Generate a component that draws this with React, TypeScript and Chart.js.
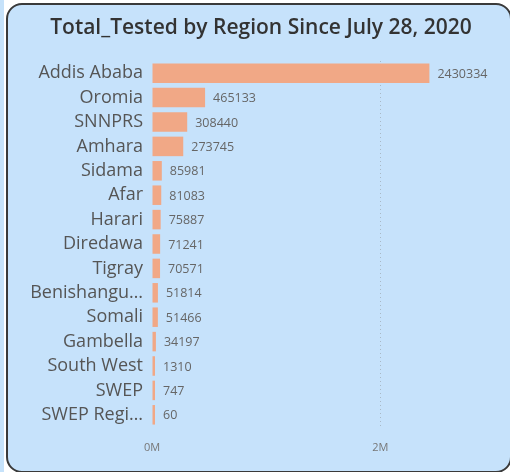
import React, { useEffect, useRef } from "react";
import { Chart, registerables } from "chart.js";

Chart.register(...registerables);

const regions = [
  "Addis Ababa", "Oromia", "SNNPRS", "Amhara", "Sidama", "Afar", "Harari",
  "Diredawa", "Tigray", "Benishangu…", "Somali", "Gambella", "South West",
  "SWEP", "SWEP Regi…",
];
const totalTested = [
  2430334, 465133, 308440, 273745, 85981, 81083, 75887, 71241, 70571,
  51814, 51466, 34197, 1310, 747, 60,
];
const xTickValues = [0, 2000000];
const xTickLabels = ["0M", "2M"];
const titleText = "Total_Tested by Region Since July 28, 2020";

const barLabelPlugin = {
  id: "barLabels",
  afterDatasetsDraw(chart: any) {
    const ctx = chart.ctx;
    const meta = chart.getDatasetMeta(0);
    ctx.save();
    ctx.font = "12.5px 'Open Sans'";
    ctx.fillStyle = "#666666";
    ctx.textAlign = "left";
    ctx.textBaseline = "middle";
    meta.data.forEach((bar: any, i: number) => {
      ctx.fillText(String(totalTested[i]), bar.x + 8, bar.y + 1);
    });
    ctx.restore();
  },
};

export default function App() {
  const ref = useRef<HTMLCanvasElement>(null);
  useEffect(() => {
    if (!ref.current) return;
    const chart = new Chart(ref.current, {
      type: "bar",
      data: {
        labels: regions,
        datasets: [
          {
            data: totalTested,
            backgroundColor: "#F1A886",
            borderWidth: 0,
            barPercentage: 0.8,
            categoryPercentage: 1,
            minBarLength: 3,
          },
        ],
      },
      options: {
        indexAxis: "y",
        animation: false,
        responsive: false,
        maintainAspectRatio: false,
        layout: { padding: { left: 0, right: 27, top: 61, bottom: 0 } },
        plugins: {
          legend: { display: false },
          tooltip: { enabled: false },
          title: { display: false },
        },
        scales: {
          y: {
            afterFit(scale: any) {
              scale.width = 152;
            },
            grid: { display: false, drawTicks: false },
            border: { display: false },
            ticks: {
              color: "#555555",
              padding: 9,
              font: { family: "'Open Sans'", size: 18 },
              autoSkip: false,
            },
          },
          x: {
            min: 0,
            max: 2900000,
            afterFit(scale: any) {
              scale.height = 45;
            },
            afterBuildTicks(scale: any) {
              scale.ticks = xTickValues.map((v) => ({ value: v }));
            },
            grid: {
              drawTicks: false,
              color: (c: any) => (c.tick && c.tick.value === 0 ? "rgba(0,0,0,0)" : "#A9B9C6"),
              lineWidth: 1,
            },
            border: { display: false, dash: [1, 3] },
            ticks: {
              color: "#777777",
              padding: 14,
              font: { family: "'Open Sans'", size: 11 },
              callback: (v: any) => {
                const i = xTickValues.indexOf(Number(v));
                return i >= 0 ? xTickLabels[i] : "";
              },
            },
          },
        },
      },
      plugins: [barLabelPlugin],
    });
    return () => chart.destroy();
  }, []);

  return (
    <div style={{ position: "fixed", left: 0, top: 0, width: 510, height: 472, overflow: "hidden", background: "#ffffff" }}>
      <div style={{ position: "absolute", left: 0, top: 0, width: 4, height: 472, background: "#C6E2FA" }} />
      <div
        style={{
          position: "absolute",
          left: 6,
          top: 3,
          width: 506,
          height: 470,
          boxSizing: "border-box",
          border: "2px solid #3a3a3a",
          borderRadius: 16,
          background: "#C6E2FB",
        }}
      />
      <canvas ref={ref} width={510} height={472} style={{ position: "absolute", left: 0, top: 0 }} />
      <div
        style={{
          position: "absolute",
          left: 0,
          top: 12,
          width: 522,
          textAlign: "center",
          fontFamily: "'Open Sans'",
          fontWeight: 600,
          fontSize: 21,
          lineHeight: "28px",
          color: "#333333",
          whiteSpace: "nowrap",
        }}
      >
        {titleText}
      </div>
    </div>
  );
}
